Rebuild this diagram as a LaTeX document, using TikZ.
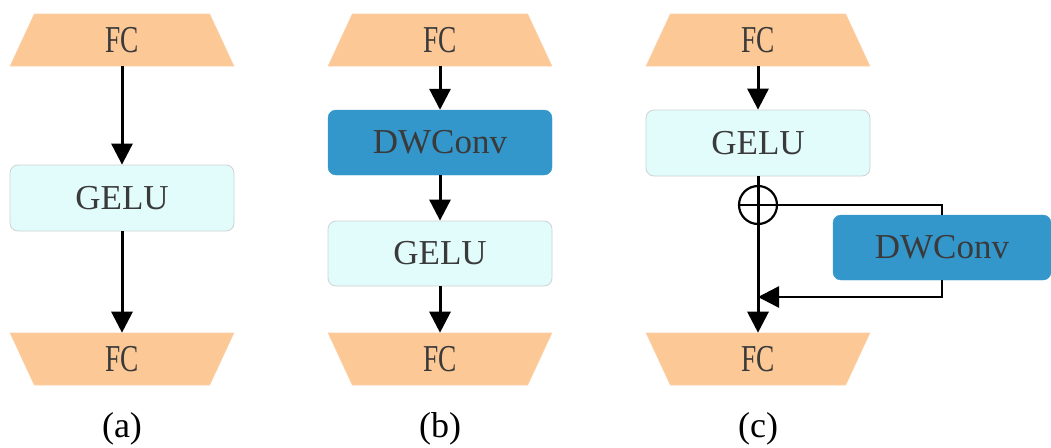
\documentclass[tikz,border=0pt]{standalone}
\usepackage{fontspec}
\setmainfont{Liberation Serif}
\usetikzlibrary{shapes.geometric,arrows.meta}
\definecolor{fcfill}{RGB}{252,200,150}
\definecolor{gelufill}{RGB}{226,252,252}
\definecolor{geluedge}{RGB}{205,210,212}
\definecolor{dwfill}{RGB}{51,151,204}
\definecolor{txt}{RGB}{58,58,58}
\tikzset{
  fcbox/.style={trapezium, trapezium stretches=true, trapezium left angle=67, trapezium right angle=67,
    minimum width=224pt, minimum height=52pt, fill=fcfill, draw=fcfill!85!white, line width=0.6pt,
    inner sep=0pt, text=txt, font=\fontsize{38}{38}\selectfont},
  fcdown/.style={fcbox, shape border rotate=180},
  gelubox/.style={rectangle, rounded corners=8pt, fill=gelufill, draw=geluedge, line width=0.8pt,
    minimum width=224pt, minimum height=66pt, text=txt, font=\fontsize{35}{35}\selectfont},
  dwbox/.style={rectangle, rounded corners=8pt, fill=dwfill, draw=dwfill,
    minimum width=218pt, minimum height=65pt, text=txt, font=\fontsize{35}{35}\selectfont},
  flow/.style={line width=3pt, -{Triangle[width=21pt,length=21pt]}},
  wire/.style={line width=2.6pt},
  caption/.style={text=black, font=\fontsize{36}{36}\selectfont},
  fclabel/.style={xscale=0.72}
}
\begin{document}
\begin{tikzpicture}[x=1pt,y=-1pt]
\useasboundingbox (0,0) rectangle (1051,447);
% (a) FC -> GELU -> FC
\node[fcbox] (a1) at (122,40) {\tikz[baseline=(t.base)]\node[fclabel,inner sep=0pt] (t) {FC};};
\node[gelubox] (a2) at (122,198) {GELU};
\node[fcdown] (a3) at (122,359) {\tikz[baseline=(t.base)]\node[fclabel,inner sep=0pt] (t) {FC};};
\draw[flow] (a1.bottom side) -- (a2.north);
\draw[flow] (a2.south) -- (a3.bottom side);
\node[caption] (ca) at (122,429) {(a)};
% (b) FC -> DWConv -> GELU -> FC
\node[fcbox] (b1) at (440,40) {\tikz[baseline=(t.base)]\node[fclabel,inner sep=0pt] (t) {FC};};
\node[dwbox, minimum width=224pt] (b2) at (440,142.5) {DWConv};
\node[gelubox, minimum height=65pt] (b3) at (440,253.5) {GELU};
\node[fcdown] (b4) at (440,359) {\tikz[baseline=(t.base)]\node[fclabel,inner sep=0pt] (t) {FC};};
\draw[flow] (b1.bottom side) -- (b2.north);
\draw[flow] (b2.south) -- (b3.north);
\draw[flow] (b3.south) -- (b4.bottom side);
\node[caption] (cb) at (440,429) {(b)};
% (c) FC -> GELU -> FC with a DWConv side branch
\node[fcbox] (c1) at (758,40) {\tikz[baseline=(t.base)]\node[fclabel,inner sep=0pt] (t) {FC};};
\node[gelubox] (c2) at (758,143) {GELU};
\node[fcdown] (c3) at (758,359) {\tikz[baseline=(t.base)]\node[fclabel,inner sep=0pt] (t) {FC};};
\node[circle, draw, line width=2.2pt, minimum size=38pt, inner sep=0pt] (add) at (758,205) {};
\node[dwbox] (c4) at (942,247.5) {DWConv};
\coordinate (join) at (758,297);
\draw[flow] (c1.bottom side) -- (c2.north);
\draw[flow] (c2.south) -- (c3.bottom side);
\draw[wire] (add.west) -- (add.east) -| (c4.north);
\draw[flow, line width=2.6pt] (c4.south) |- (join);
\node[caption] (cc) at (758,429) {(c)};
\end{tikzpicture}
\end{document}
